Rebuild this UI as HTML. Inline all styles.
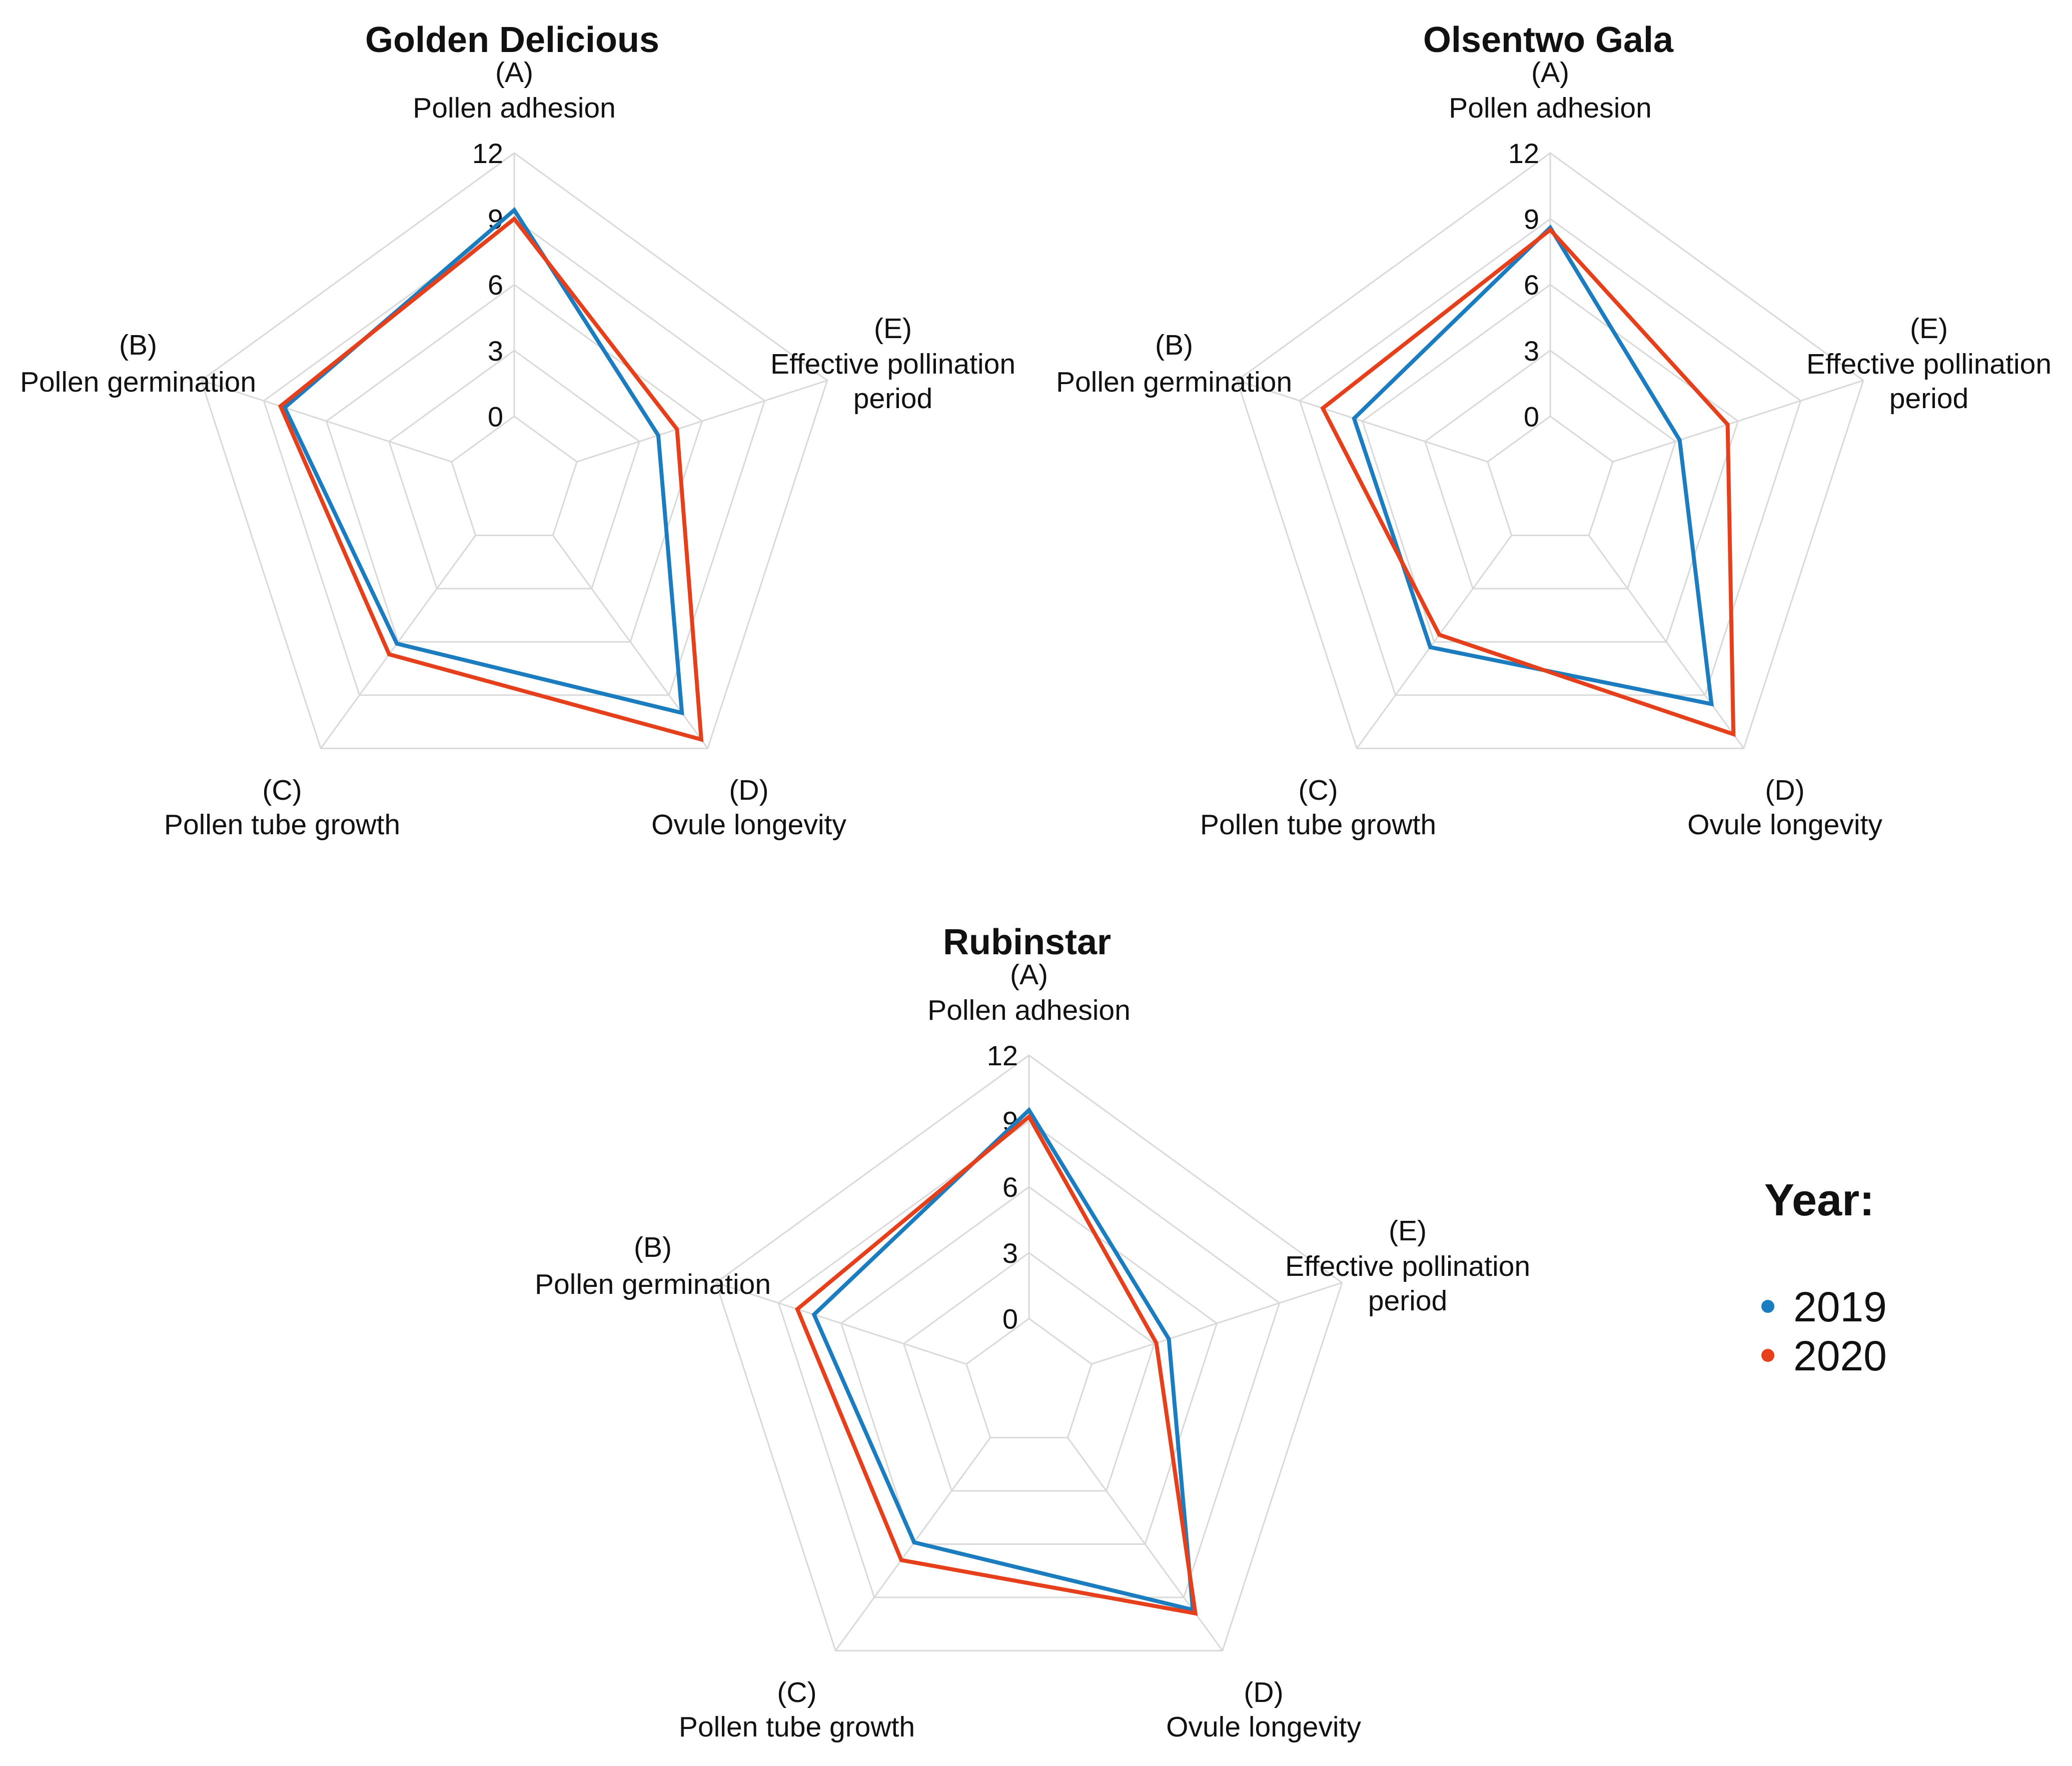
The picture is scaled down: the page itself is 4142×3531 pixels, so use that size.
<!DOCTYPE html>
<html><head><meta charset="utf-8"><style>
html,body{margin:0;padding:0;background:#fff}
svg{display:block}
text{font-family:"Liberation Sans",Arial,sans-serif;fill:#111}
</style></head><body>
<svg id="chart" width="4142" height="3531" viewBox="0 0 4142 3531"></svg>
<script>
const axisCodes = ["(A)","(B)","(C)","(D)","(E)"];
const axisNames = [["Pollen adhesion"],["Pollen germination"],["Pollen tube growth"],["Ovule longevity"],["Effective pollination","period"]];
const ticks = [0,3,6,9,12];
const cultivars = ["Golden Delicious","Olsentwo Gala","Rubinstar"];
const gd2019 = [9.4, 8.0, 6.1, 10.0, 3.9];
const gd2020 = [9.0, 8.2, 6.7, 11.5, 4.8];
const og2019 = [8.6, 6.4, 6.3, 9.5, 3.2];
const og2020 = [8.5, 7.9, 5.6, 11.2, 5.5];
const rb2019 = [9.5, 7.3, 5.9, 9.7, 3.7];
const rb2020 = [9.2, 8.1, 6.9, 9.9, 3.1];
const years = ["2019","2020"];
const colors = ["#1c7cc0","#e5401b"];

const NS="http://www.w3.org/2000/svg";
const svg=document.getElementById('chart');
function mk(tag,attrs,parent){const e=document.createElementNS(NS,tag);for(const k in attrs)e.setAttribute(k,attrs[k]);(parent||svg).appendChild(e);return e;}
const R=658, vmax=12;
const angles=[-90,198,126,54,-18].map(a=>a*Math.PI/180);
function rScale(v){return R*0.2+R*0.8*v/vmax;}
function pt(cx,cy,i,r){return [cx+r*Math.cos(angles[i]),cy+r*Math.sin(angles[i])];}

const centers=[[1028,964],[3099,964],[2057,2768]];
const series=[[gd2019,gd2020],[og2019,og2020],[rb2019,rb2020]];
const labelOffsets=[
 {dx:0,dys:[-820,-749],anchor:"middle"},
 {dx:-752,dys:[-275,-201],anchor:"middle"},
 {dx:-464,dys:[615,684],anchor:"middle"},
 {dx:469,dys:[615,684],anchor:"middle"},
 {dx:757,dys:[-308,-237,-168],anchor:"middle"}
];

centers.forEach((c,ci)=>{
  const [cx,cy]=c;
  const g=mk('g',{});
  
  
  ticks.forEach(t=>{
    const pts=angles.map((a,i)=>pt(cx,cy,i,rScale(t)).join(',')).join(' ');
    const ring=mk('polygon',{points:pts,fill:'none',stroke:'#d9d9d9','stroke-width':3},g);
    
    
  });
  angles.forEach((a,i)=>{
    const p0=pt(cx,cy,i,rScale(0)),p1=pt(cx,cy,i,rScale(vmax));
    const sp=mk('line',{x1:p0[0],y1:p0[1],x2:p1[0],y2:p1[1],stroke:'#d9d9d9','stroke-width':3},g);
    
    
  });
  ticks.forEach(t=>{
    const tl=mk('text',{x:cx-22,y:cy-rScale(t)+20,'text-anchor':'end','font-size':56},g);
    tl.textContent=t;
    
    
  });
  series[ci].forEach((vals,si)=>{
    const pts=vals.map((v,i)=>pt(cx,cy,i,rScale(v)).join(',')).join(' ');
    const pl=mk('polygon',{points:pts,fill:'none',stroke:colors[si],'stroke-width':8,'stroke-linejoin':'miter'},g);
    
    
  });
  const tt=mk('text',{x:cx-4,y:cy-860,'text-anchor':'middle','font-size':72,'font-weight':'bold'},g);
  tt.textContent=cultivars[ci];
  
  
  labelOffsets.forEach((lo,i)=>{
    const lines=[axisCodes[i]].concat(axisNames[i]);
    lines.forEach((s,li)=>{
      const t=mk('text',{x:cx+lo.dx,y:cy+lo.dys[li]+20,'text-anchor':lo.anchor,'font-size':57},g);
      t.textContent=s;
      
      
    });
  });
});

const lg=mk('g',{});


const lt=mk('text',{x:3637,y:2430,'text-anchor':'middle','font-size':90,'font-weight':'bold'},lg);
lt.textContent='Year:';


years.forEach((y,i)=>{
  const yy=2612+i*98;
  const d=mk('circle',{cx:3534,cy:yy,r:13,fill:colors[i]},lg);
  
  
  const t=mk('text',{x:3585,y:yy+30,'font-size':84},lg);
  t.textContent=y;
  
  
});
</script>
</body></html>
